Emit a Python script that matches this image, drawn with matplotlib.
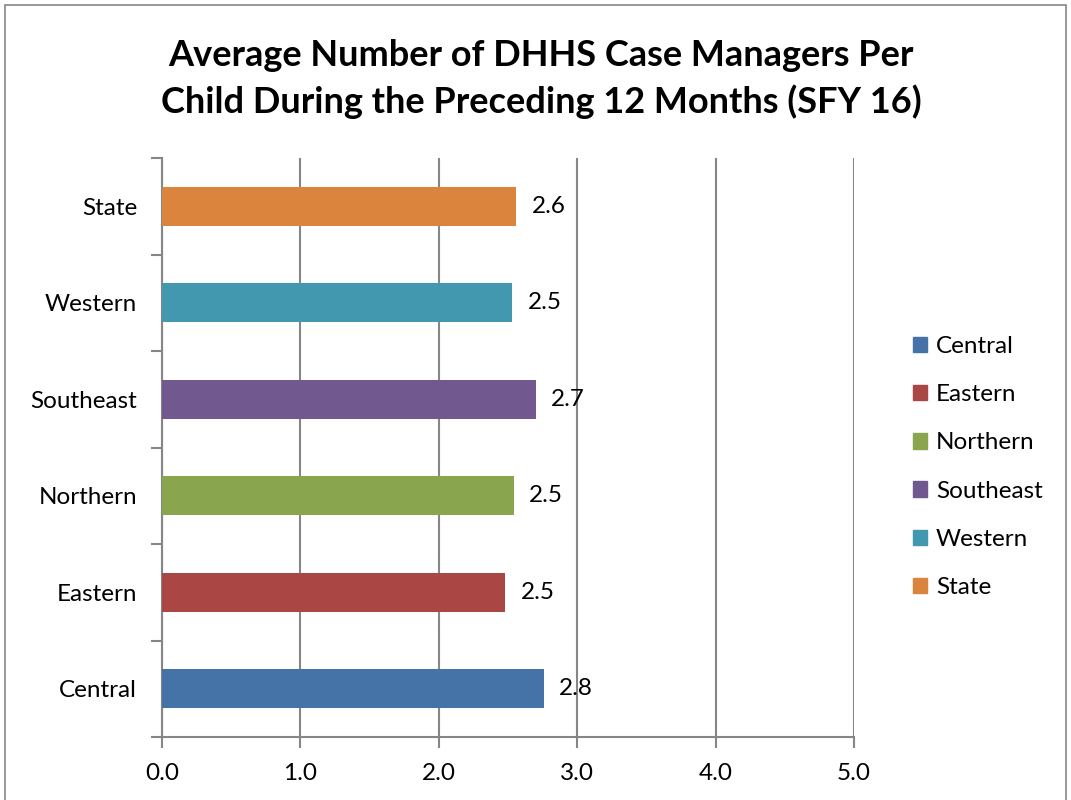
import matplotlib
matplotlib.use('Agg')
import matplotlib.pyplot as plt
from matplotlib.patches import Patch, Rectangle

plt.rcParams['font.family'] = ['Lato', 'DejaVu Sans']

# данные
regions = ['Central', 'Eastern', 'Northern', 'Southeast', 'Western', 'State']
values = [2.76, 2.48, 2.54, 2.70, 2.53, 2.56]
labels = ['2.8', '2.5', '2.5', '2.7', '2.5', '2.6']
colors = ['#4572A7', '#AA4643', '#89A54E', '#71588F', '#4198AF', '#DB843D']

fig = plt.figure(figsize=(10.71, 8), dpi=100)
W, H = 1071, 800
ax = fig.add_axes([162 / W, 1 - 737 / H, (854 - 162) / W, (737 - 158) / H])

ypos = list(range(len(regions)))
ax.barh(ypos, values, height=0.4, color=colors, zorder=3)
for y, v, t in zip(ypos, values, labels):
    ax.text(v + 0.11, y, t, va='center', ha='left', fontsize=17.5, zorder=4)

ax.set_xlim(0, 5)
ax.set_ylim(-0.5, len(regions) - 0.5)
ax.set_xticks([0, 1, 2, 3, 4, 5])
ax.set_xticklabels([f'{v:.1f}' for v in [0, 1, 2, 3, 4, 5]], fontsize=17.5)
ax.set_yticks(ypos)
ax.set_yticklabels(regions, fontsize=17.5)
ax.tick_params(axis='y', length=0, pad=18)
ax.set_yticks([y - 0.5 for y in range(len(regions) + 1)], minor=True)
ax.tick_params(axis='y', which='minor', length=8, color='#868686', width=1.5)
ax.tick_params(axis='x', length=8, color='#868686', width=1.5, pad=11)
ax.grid(axis='x', color='#868686', linewidth=1.5, zorder=0)
for s in ['top', 'right']:
    ax.spines[s].set_visible(False)
for s in ['left', 'bottom']:
    ax.spines[s].set_color('#868686')
    ax.spines[s].set_linewidth(1.5)

fig.text(541 / W, 1 - 79 / H,
         'Average Number of DHHS Case Managers Per\nChild During the Preceding 12 Months (SFY 16)',
         ha='center', va='center', fontsize=26, fontweight='bold', linespacing=1.4)

handles = [Patch(color=c, label=r) for r, c in zip(regions, colors)]
fig.legend(handles=handles, loc='center left', bbox_to_anchor=(891 / W, 1 - 467 / H),
           frameon=False, fontsize=17.5, handlelength=0.6, handleheight=0.6,
           handletextpad=0.35, labelspacing=1.12)

fig.patches.append(Rectangle((5 / W, -0.01), 1061 / W, 1 - 5 / H + 0.01,
                             transform=fig.transFigure, fill=False,
                             edgecolor='#868686', linewidth=1.2))

fig.savefig('out.png', dpi=100)
